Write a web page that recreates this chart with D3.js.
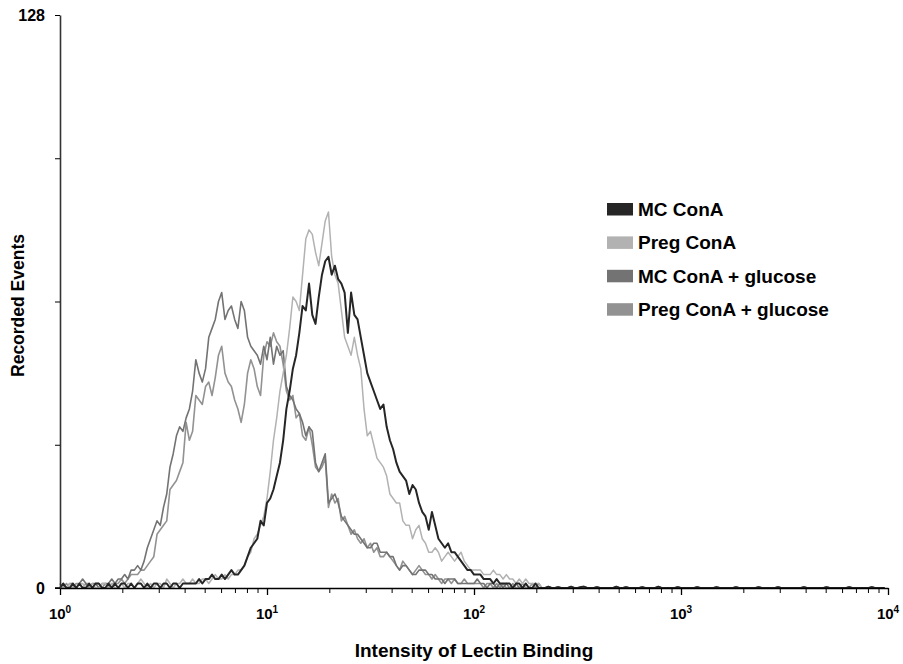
<!DOCTYPE html>
<html>
<head>
<meta charset="utf-8">
<script src="https://cdn.jsdelivr.net/npm/d3@7"></script>
<style>
	body { margin: 0; background: #fff; }
	svg text { font-family: "Liberation Sans", Arial, sans-serif; font-weight: bold; fill: #000; }
</style>
</head>
<body>
<svg id="chart" width="903" height="664"></svg>
<script>

// histogram counts per channel (256 log channels over 4 decades), channels 0..149
var mcCona = [
	0,1,0,0,1,0,1,0,0,1, 0,1,1,0,0,1,0,1,0,1, 1,0,1,0,1,1,0,1,0,1, 1,0,1,1,0,1,1,0,1,1,
	1,1,1,2,1,2,2,3,2,2, 3,2,3,4,3,3,4,5,7,9, 10,11,15,14,19,20,22,25,28,33,
	40,44,49,52,57,63,62,68,61,59, 65,70,73,74,70,72,69,68,66,57, 66,61,60,56,52,48,46,44,42,40,
	41,36,33,31,28,26,25,24,21,23, 22,19,17,16,13,17,14,11,10,9, 10,8,8,7,6,5,4,4,3,3,
	3,2,2,2,1,2,1,1,1,1, 0,1,1,0,1,0,0,1,0,0
];
var pregCona = [
	1,0,0,1,0,0,1,1,0,0, 1,0,0,1,1,0,1,0,0,1, 0,1,1,0,1,2,1,0,1,0, 1,1,0,2,1,0,1,1,2,1,
	1,2,1,1,2,2,1,2,3,2, 2,3,2,3,3,4,4,5,7,8, 11,12,14,16,20,26,33,38,44,48,
	52,58,65,64,62,70,78,80,79,75, 72,77,82,84,74,70,68,62,56,54, 52,56,52,49,40,34,35,32,29,28,
	27,25,21,20,19,19,15,14,14,11, 13,14,11,10,8,8,9,8,6,7, 8,7,6,7,8,6,5,4,4,4,
	4,3,3,3,4,3,3,2,3,2, 2,1,2,1,2,1,1,1,1,0
];
var mcGlucose = [
	0,1,0,1,1,0,1,2,1,0, 1,1,0,1,1,1,2,1,2,2, 3,2,4,4,5,4,6,9,11,13, 15,14,18,21,27,30,34,36,35,38,
	40,44,51,48,46,49,56,58,60,64, 66,60,62,63,60,58,64,62,56,54, 53,52,50,54,51,56,50,54,52,53,
	45,43,42,40,39,37,34,36,35,28, 26,28,30,19,20,21,19,16,15,14, 13,12,12,11,10,9,9,10,10,8,
	8,8,7,7,5,4,5,5,4,3, 3,4,4,4,3,3,2,2,2,1, 2,2,2,1,1,1,1,1,1,2,
	1,1,0,1,1,0,1,0,1,0, 0,1,0,0,1,0,0,0,1,0
];
var pregGlucose = [
	1,0,1,0,0,1,1,0,1,1, 0,1,1,0,1,0,1,1,1,2, 1,2,3,3,3,4,4,5,6,7, 12,13,14,15,22,23,24,26,28,37,
	33,35,43,42,41,45,46,43,47,52, 54,48,46,45,42,40,37,41,48,51, 49,45,43,52,55,54,57,55,54,50,
	44,42,43,38,39,34,33,36,32,27, 26,27,29,18,21,19,20,15,16,14, 12,13,11,10,11,9,10,8,9,7,
	7,8,7,6,5,4,6,5,4,3, 4,5,4,3,3,2,3,2,1,2, 2,1,2,1,1,2,1,1,1,1,
	1,0,1,1,0,1,0,1,0,0, 1,0,0,1,0,0,1,0,0,0
];
// channels 150..255, common near-empty tail
var tailCounts = [
	0,0.3,0,0,0.2,0,0,0,0.3,0, 0,0.2,0.3,0,0,0,0.2,0,0,0, 0,0,0.3,0,0,0.2,0,0,0,0,
	0.2,0,0,0,0,0.3,0,0,0,0, 0,0.2,0,0,0,0,0,0.2,0,0, 0,0,0,0.2,0,0,0,0,0,0.2,
	0,0,0,0,0,0,0.2,0,0,0, 0,0,0.2,0,0,0,0,0,0,0, 0.2,0,0,0,0,0,0,0.2,0,0,
	0,0,0,0,0.2,0,0,0,0,0, 0,0.2,0,0,0,0
];

var seriesNames = ["MC ConA", "Preg ConA", "MC ConA + glucose", "Preg ConA + glucose"];
var seriesData = [mcCona, pregCona, mcGlucose, pregGlucose];
var seriesColors = ["#262626", "#b2b2b2", "#737373", "#929292"];
var lineWidths = [2, 1.5, 1.6, 1.6];
var drawOrder = [3, 2, 1, 0];

var yTicks = [0, 32, 64, 96, 128];
var majorTicks = [1, 10, 100, 1000, 10000];
var nChannels = 256;

var w = 903, h = 664;
var margin = {top: 15, right: 15, bottom: 76, left: 60};

function channelValue(i) {
	return Math.pow(10, i * 4 / nChannels);
}

var svg = d3.select("#chart");

var xScale = d3.scaleLog()
	.domain([1, 10000])
	.range([margin.left, w - margin.right]);

var yScale = d3.scaleLinear()
	.domain([0, 128])
	.range([h - margin.bottom, margin.top]);

var minorTicks = [];
majorTicks.slice(0, -1).forEach(function(m) {
	for (var k = 2; k <= 9; k++) minorTicks.push(m * k);
});

var line = d3.line()
	.x(d => xScale(d[0]))
	.y(d => yScale(d[1]));

drawOrder.forEach(function(s) {
	var counts = seriesData[s].concat(tailCounts);
	var pts = counts.map((v, i) => [channelValue(i), v]);
	svg.append("path")
		.datum(pts)
		.attr("d", line)
		.attr("fill", "none")
		.attr("stroke", seriesColors[s])
		.attr("stroke-width", lineWidths[s])
		.attr("stroke-linejoin", "round");
});

// x axis, minor ticks then majors
svg.append("g")
	.attr("transform", "translate(0," + yScale(0) + ")")
	.call(d3.axisBottom(xScale).tickValues(minorTicks).tickSize(5).tickSizeOuter(0).tickFormat(""))
	.call(g => g.select(".domain").attr("stroke-width", 1.6));

svg.append("g")
	.attr("transform", "translate(0," + yScale(0) + ")")
	.call(d3.axisBottom(xScale).tickValues(majorTicks).tickSize(7).tickSizeOuter(0).tickFormat(""))
	.call(g => g.select(".domain").remove())
	.call(g => g.selectAll(".tick line").attr("stroke-width", 1.3));

svg.append("line")
	.attr("x1", margin.left - 5).attr("x2", margin.left)
	.attr("y1", yScale(0)).attr("y2", yScale(0))
	.attr("stroke", "#000").attr("stroke-width", 1.6);

var xLabels = svg.append("g")
	.selectAll("text")
	.data(majorTicks)
	.enter()
	.append("text")
	.attr("x", d => xScale(d))
	.attr("y", yScale(0) + 31)
	.attr("text-anchor", "middle")
	.style("font-size", "15px");

xLabels.append("tspan").text("10");
xLabels.append("tspan")
	.attr("dy", -6)
	.style("font-size", "10px")
	.text(d => Math.round(Math.log10(d)));

// y axis
svg.append("g")
	.attr("transform", "translate(" + margin.left + ",0)")
	.call(d3.axisLeft(yScale).tickValues(yTicks).tickSize(5).tickSizeOuter(0)
		.tickPadding(10)
		.tickFormat(d => (d == 0 || d == 128) ? d : ""))
	.call(g => g.select(".domain").attr("stroke", "#333").attr("stroke-width", 1.6))
	.call(g => g.selectAll(".tick text").style("font-size", "16px"));

// axis titles
svg.append("text")
	.attr("x", (xScale.range()[0] + xScale.range()[1]) / 2)
	.attr("y", 657)
	.attr("text-anchor", "middle")
	.style("font-size", "19px")
	.text("Intensity of Lectin Binding");

svg.append("text")
	.attr("transform", "translate(24," + ((yScale.range()[0] + yScale.range()[1]) / 2 + 4) + ") rotate(-90)")
	.attr("text-anchor", "middle")
	.style("font-size", "17.5px")
	.text("Recorded Events");

// legend
var legend = svg.append("g")
	.attr("transform", "translate(607,203)");

var rows = legend.selectAll("g")
	.data(seriesNames)
	.enter()
	.append("g")
	.attr("transform", (d, i) => "translate(0," + (i * 33.4) + ")");

rows.append("rect")
	.attr("width", 26)
	.attr("height", 12.5)
	.attr("fill", (d, i) => seriesColors[i]);

rows.append("text")
	.attr("x", 31)
	.attr("y", 13)
	.style("font-size", "19px")
	.text(d => d);

</script>
</body>
</html>
